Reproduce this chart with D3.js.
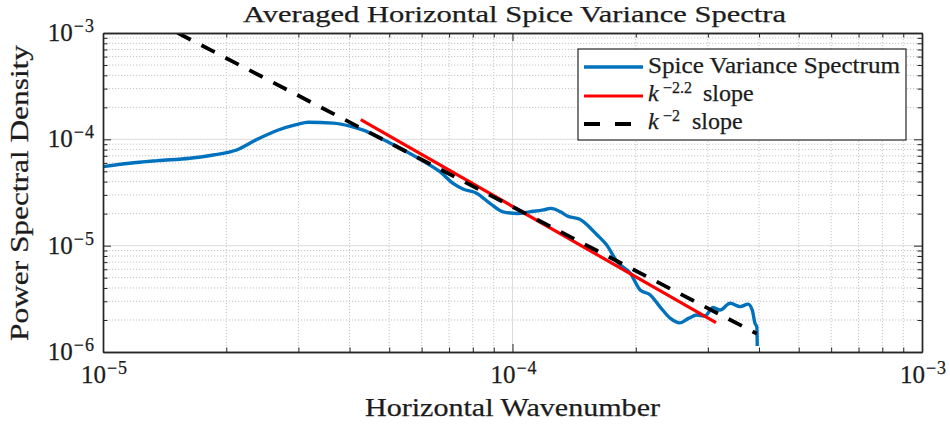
<!DOCTYPE html>
<html>
<head>
<meta charset="utf-8">
<script src="https://cdn.jsdelivr.net/npm/d3@7"></script>
<style>
  body { margin: 0; background: #ffffff; }
  svg { display: block; }
  text { font-family: "Liberation Serif", "Times New Roman", serif; fill: #1c1c1c;
         stroke: #1c1c1c; stroke-width: 0.25px; }
</style>
</head>
<body>
<svg id="chart" width="950" height="430"></svg>
<script>
// Averaged horizontal spice variance spectrum (wavenumber, PSD)
const wavenumber = [
  1.00e-5, 1.16e-5, 1.36e-5, 1.63e-5, 1.86e-5, 2.12e-5, 2.38e-5, 2.66e-5, 2.98e-5, 3.17e-5,
  3.65e-5, 4.01e-5, 4.32e-5, 4.67e-5, 4.83e-5, 5.52e-5, 6.18e-5, 6.65e-5, 7.16e-5, 7.57e-5,
  8.19e-5, 8.81e-5, 9.48e-5, 1.03e-4, 1.10e-4, 1.19e-4, 1.24e-4, 1.31e-4, 1.36e-4, 1.46e-4,
  1.61e-4, 1.70e-4, 1.80e-4, 1.94e-4, 2.05e-4, 2.17e-4, 2.29e-4, 2.43e-4, 2.56e-4, 2.69e-4,
  2.82e-4, 2.95e-4, 3.09e-4, 3.21e-4, 3.40e-4, 3.60e-4, 3.76e-4, 3.85e-4, 3.91e-4, 3.95e-4,
  3.96e-4
];
const spicePSD = [
  5.53e-5, 5.96e-5, 6.30e-5, 6.64e-5, 7.13e-5, 7.94e-5, 1.00e-4, 1.21e-4, 1.38e-4, 1.45e-4,
  1.42e-4, 1.33e-4, 1.22e-4, 1.065e-4, 9.96e-5, 7.66e-5, 5.96e-5, 4.97e-5, 3.85e-5, 3.41e-5,
  3.10e-5, 2.50e-5, 2.08e-5, 2.01e-5, 2.08e-5, 2.17e-5, 2.24e-5, 2.08e-5, 1.90e-5, 1.77e-5,
  1.26e-5, 1.01e-5, 7.06e-6, 5.50e-6, 3.83e-6, 3.44e-6, 2.67e-6, 2.07e-6, 1.88e-6, 2.07e-6,
  2.23e-6, 2.18e-6, 2.63e-6, 2.48e-6, 2.87e-6, 2.67e-6, 2.82e-6, 2.48e-6, 1.86e-6, 1.73e-6,
  1.14e-6
];

// Reference power laws: PSD = A * k^n over a wavenumber range
const fitSteepRange = [4.26e-5, 3.14e-4];
const fitSteepExponent = -2.2;
const fitSteepAmplitude = 3.71e-14;

const fitRefRange = [1.52e-5, 3.95e-4];
const fitRefExponent = -2;
const fitRefAmplitude = 2.32e-13;

// Axis decades
const xDecades = [-5, -4, -3];
const yDecades = [-6, -5, -4, -3];

const titleText = "Averaged Horizontal Spice Variance Spectra";
const xLabelText = "Horizontal Wavenumber";
const yLabelText = "Power Spectral Density";

const svg = d3.select("#chart");
const plot = { left: 103, right: 922, top: 33, bottom: 352 };

const x = d3.scaleLog().domain([1e-5, 1e-3]).range([plot.left, plot.right]);
const y = d3.scaleLog().domain([1e-6, 1e-3]).range([plot.bottom, plot.top]);

const majorX = xDecades.map(e => Math.pow(10, e));
const majorY = yDecades.map(e => Math.pow(10, e));
const minorOf = decs => {
  const out = [];
  decs.slice(0, -1).forEach(e => { for (let m = 2; m <= 9; m++) out.push(m * Math.pow(10, e)); });
  return out;
};
const minorX = minorOf(xDecades);
const minorY = minorOf(yDecades);

// Grid
const grid = svg.append("g");
grid.selectAll(".gxm").data(minorX).join("line")
  .attr("x1", d => x(d)).attr("x2", d => x(d)).attr("y1", plot.top).attr("y2", plot.bottom)
  .attr("stroke", "#c4c4c4").attr("stroke-width", 1).attr("stroke-dasharray", "1.2,1.8");
grid.selectAll(".gym").data(minorY).join("line")
  .attr("y1", d => y(d)).attr("y2", d => y(d)).attr("x1", plot.left).attr("x2", plot.right)
  .attr("stroke", "#c4c4c4").attr("stroke-width", 1).attr("stroke-dasharray", "1.2,1.8");
grid.selectAll(".gxM").data(majorX.slice(1, -1)).join("line")
  .attr("x1", d => x(d)).attr("x2", d => x(d)).attr("y1", plot.top).attr("y2", plot.bottom)
  .attr("stroke", "#dcdcdc").attr("stroke-width", 1);
grid.selectAll(".gyM").data(majorY.slice(1, -1)).join("line")
  .attr("y1", d => y(d)).attr("y2", d => y(d)).attr("x1", plot.left).attr("x2", plot.right)
  .attr("stroke", "#dcdcdc").attr("stroke-width", 1);

// Data lines, clipped to the axes box
svg.append("clipPath").attr("id", "clip").append("rect")
  .attr("x", plot.left).attr("y", plot.top)
  .attr("width", plot.right - plot.left).attr("height", plot.bottom - plot.top);
const lines = svg.append("g").attr("clip-path", "url(#clip)");

const spectrum = wavenumber.map((k, i) => [k, spicePSD[i]]);
lines.append("path").datum(spectrum)
  .attr("fill", "none").attr("stroke", "#0072BD").attr("stroke-width", 3.4)
  .attr("stroke-linejoin", "round")
  .attr("d", d3.line().x(d => x(d[0])).y(d => y(d[1])).curve(d3.curveMonotoneX));

const powerLaw = (range, a, n) => range.map(k => [k, a * Math.pow(k, n)]);
const straight = d3.line().x(d => x(d[0])).y(d => y(d[1]));

lines.append("path").datum(powerLaw(fitSteepRange, fitSteepAmplitude, fitSteepExponent))
  .attr("fill", "none").attr("stroke", "#FF0000").attr("stroke-width", 3.2)
  .attr("d", straight);

lines.append("path").datum(powerLaw(fitRefRange, fitRefAmplitude, fitRefExponent))
  .attr("fill", "none").attr("stroke", "#000000").attr("stroke-width", 3.8)
  .attr("stroke-dasharray", "15,12")
  .attr("d", straight);

// Axes box with inward ticks on all four sides
const axisColor = "#262626";
function drawAxis(gen, transform, values, size) {
  const g = svg.append("g").attr("transform", transform)
    .call(gen.tickValues(values).tickSize(size).tickSizeOuter(0).tickFormat(""));
  g.selectAll("line").attr("stroke", axisColor).attr("stroke-width", 1);
  g.select(".domain").attr("stroke", axisColor).attr("stroke-width", 1.4);
  g.selectAll("text").remove();
}
drawAxis(d3.axisBottom(x), `translate(0,${plot.bottom})`, majorX, -8);
drawAxis(d3.axisBottom(x), `translate(0,${plot.bottom})`, minorX, -4.5);
drawAxis(d3.axisTop(x), `translate(0,${plot.top})`, majorX, -8);
drawAxis(d3.axisTop(x), `translate(0,${plot.top})`, minorX, -4.5);
drawAxis(d3.axisLeft(y), `translate(${plot.left},0)`, majorY, -8);
drawAxis(d3.axisLeft(y), `translate(${plot.left},0)`, minorY, -4.5);
drawAxis(d3.axisRight(y), `translate(${plot.right},0)`, majorY, -8);
drawAxis(d3.axisRight(y), `translate(${plot.right},0)`, minorY, -4.5);

// Power-of-ten tick labels
function powerLabel(sel, e) {
  sel.append("tspan").attr("font-size", 25).text("10");
  sel.append("tspan").attr("font-size", 18).attr("dy", -9).attr("dx", 1).text("\u2212");
  sel.append("tspan").attr("font-size", 18).attr("dx", 1).text(String(-e));
}
xDecades.forEach(e => {
  const t = svg.append("text").attr("x", x(Math.pow(10, e)) + 1).attr("y", 383)
    .attr("text-anchor", "middle");
  powerLabel(t, e);
});
yDecades.forEach(e => {
  const t = svg.append("text").attr("x", 94).attr("y", y(Math.pow(10, e)) + 8)
    .attr("text-anchor", "end");
  powerLabel(t, e);
});

// Title and axis labels
svg.append("text").attr("x", 514.5).attr("y", 22).attr("text-anchor", "middle")
  .attr("font-size", 24).attr("textLength", 543).attr("lengthAdjust", "spacingAndGlyphs")
  .text(titleText);
svg.append("text").attr("x", 512.5).attr("y", 416).attr("text-anchor", "middle")
  .attr("font-size", 26).attr("textLength", 295).attr("lengthAdjust", "spacingAndGlyphs")
  .text(xLabelText);
svg.append("text").attr("transform", "translate(28,193) rotate(-90)")
  .attr("text-anchor", "middle")
  .attr("font-size", 26).attr("textLength", 296).attr("lengthAdjust", "spacingAndGlyphs")
  .text(yLabelText);

// Legend
const legend = svg.append("g");
legend.append("rect").attr("x", 578).attr("y", 49).attr("width", 328).attr("height", 91)
  .attr("fill", "#ffffff").attr("stroke", axisColor).attr("stroke-width", 1.2);

const legendRows = [
  { y: 67, color: "#0072BD", width: 3.4, dash: null },
  { y: 96, color: "#FF0000", width: 3.2, dash: null },
  { y: 124, color: "#000000", width: 3.8, dash: "16,15" }
];
legendRows.forEach(r => {
  legend.append("line").attr("x1", 584).attr("x2", 643).attr("y1", r.y).attr("y2", r.y)
    .attr("stroke", r.color).attr("stroke-width", r.width)
    .attr("stroke-dasharray", r.dash);
});

legend.append("text").attr("x", 648).attr("y", 73).attr("font-size", 24)
  .attr("textLength", 252).attr("lengthAdjust", "spacingAndGlyphs")
  .text("Spice Variance Spectrum");

function slopeLabel(yBase, expText, slopeX) {
  const t = legend.append("text").attr("x", 648).attr("y", yBase).attr("font-size", 24);
  t.append("tspan").attr("font-style", "italic").text("k");
  t.append("tspan").attr("x", 663).attr("dy", -8).attr("font-size", 16).text("\u2212" + expText);
  t.append("tspan").attr("x", slopeX).attr("dy", 8).text("slope");
}
slopeLabel(101, String(-fitSteepExponent), 703);
slopeLabel(129, String(-fitRefExponent), 692);
</script>
</body>
</html>
